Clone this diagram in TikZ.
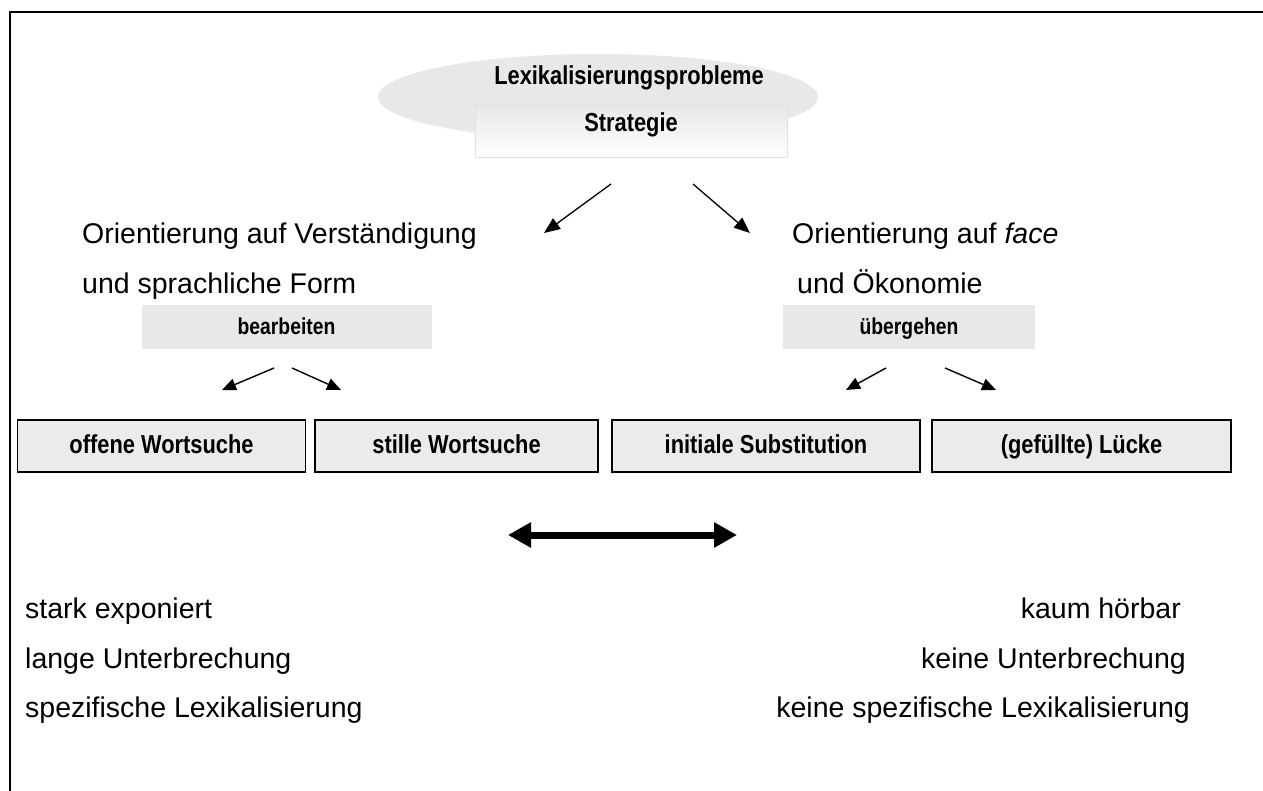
\documentclass[tikz,border=0pt]{standalone}
\usepackage{fontspec}
\setmainfont{Liberation Sans}
\newfontfamily\narrowfont[FakeStretch=0.84]{Liberation Sans}
\usetikzlibrary{arrows.meta,shapes.geometric}
\definecolor{panelgray}{HTML}{E8E8E8}
\definecolor{boxgray}{HTML}{EBEBEB}
\definecolor{faintedge}{HTML}{E2E2E2}
\begin{document}
\begin{tikzpicture}[x=1pt,y=-1pt,
  bodytext/.style={font=\fontsize{28.5}{34}\selectfont, inner sep=0pt},
  boxlabel/.style={font=\narrowfont\bfseries\fontsize{23}{28}\selectfont, inner sep=0pt},
  headlabel/.style={font=\narrowfont\bfseries\fontsize{26}{30}\selectfont, inner sep=0pt},
  graypanel/.style={fill=panelgray, inner sep=0pt},
  wordbox/.style={draw=black, line width=1.5pt, fill=boxgray, inner sep=0pt,
    minimum height=52pt, text height=19pt, text depth=5pt,
    font=\narrowfont\bfseries\fontsize{26}{30}\selectfont},
  bigarrow/.style={-{Triangle[length=16pt,width=13pt]}, line width=1.3pt},
  smallarrow/.style={-{Triangle[length=14pt,width=12pt]}, line width=1.4pt},
  spanarrow/.style={{Triangle[length=23pt,width=24pt]}-{Triangle[length=23pt,width=24pt]}, line width=7pt}]

% page frame
\useasboundingbox (0,0) rectangle (1263,791);
\draw[line width=2.2pt] (10,791) -- (10,12) -- (1263,12);

% heading: ellipse with the problem, box with the strategy
\node[ellipse, fill=panelgray, minimum width=440pt, minimum height=86pt, inner sep=0pt] (problem) at (598,97) {};
\node[headlabel, anchor=base] (problemtext) at (629,85) {Lexikalisierungsprobleme};
\node[draw=faintedge, line width=1pt, top color=panelgray, bottom color=white,
      minimum width=312pt, minimum height=53pt, inner sep=0pt] (strategy) at (631,131.5) {};
\node[headlabel, anchor=base] (strategytext) at (631,132) {Strategie};

% two orientations
\coordinate (splitL) at (611,184);
\coordinate (endL) at (544,233);
\coordinate (splitR) at (693,184);
\coordinate (endR) at (750,233);
\draw[bigarrow] (splitL) -- (endL);
\draw[bigarrow] (splitR) -- (endR);

\node[bodytext, anchor=base west] (orientL1) at (82,244) {Orientierung auf Verständigung};
\node[bodytext, anchor=base west] (orientL2) at (82,294) {und sprachliche Form};
\node[bodytext, anchor=base west] (orientR1) at (792,244) {Orientierung auf \textit{face}};
\node[bodytext, anchor=base west] (orientR2) at (797,294) {und Ökonomie};

% gray action panels
\node[graypanel, minimum width=290pt, minimum height=44pt] (edit) at (286.5,327) {};
\node[boxlabel, anchor=base] (edittext) at (286.5,335) {bearbeiten};
\node[graypanel, minimum width=252pt, minimum height=44pt] (skip) at (909,327) {};
\node[boxlabel, anchor=base] (skiptext) at (909,335) {übergehen};

% arrows down to the four kinds
\coordinate (editL) at (274,368);
\coordinate (editLend) at (222,390);
\coordinate (editR) at (292,368);
\coordinate (editRend) at (341,390);
\coordinate (skipL) at (886,368);
\coordinate (skipLend) at (846,390);
\coordinate (skipR) at (945,368);
\coordinate (skipRend) at (996,390);
\draw[smallarrow] (editL) -- (editLend);
\draw[smallarrow] (editR) -- (editRend);
\draw[smallarrow] (skipL) -- (skipLend);
\draw[smallarrow] (skipR) -- (skipRend);

% the four kinds of word search
\node[wordbox, minimum width=288pt] (open) at (161.5,446) {offene Wortsuche};
\node[wordbox, minimum width=283pt] (silent) at (456.5,446) {stille Wortsuche};
\node[wordbox, minimum width=308pt] (subst) at (766,446) {initiale Substitution};
\node[wordbox, minimum width=299pt] (gap) at (1081.5,446) {(gefüllte) Lücke};

% scale between the poles
\coordinate (poleL) at (508,535);
\coordinate (poleR) at (737,535);
\draw[spanarrow] (poleL) -- (poleR);

% properties of the poles
\node[bodytext, anchor=base west] (propL1) at (25,618) {stark exponiert};
\node[bodytext, anchor=base west] (propL2) at (25,668) {lange Unterbrechung};
\node[bodytext, anchor=base west] (propL3) at (25,717) {spezifische Lexikalisierung};
\node[bodytext, anchor=base east] (propR1) at (1181,618) {kaum hörbar};
\node[bodytext, anchor=base east] (propR2) at (1186,668) {keine Unterbrechung};
\node[bodytext, anchor=base east] (propR3) at (1190,717) {keine spezifische Lexikalisierung};
\end{tikzpicture}
\end{document}
